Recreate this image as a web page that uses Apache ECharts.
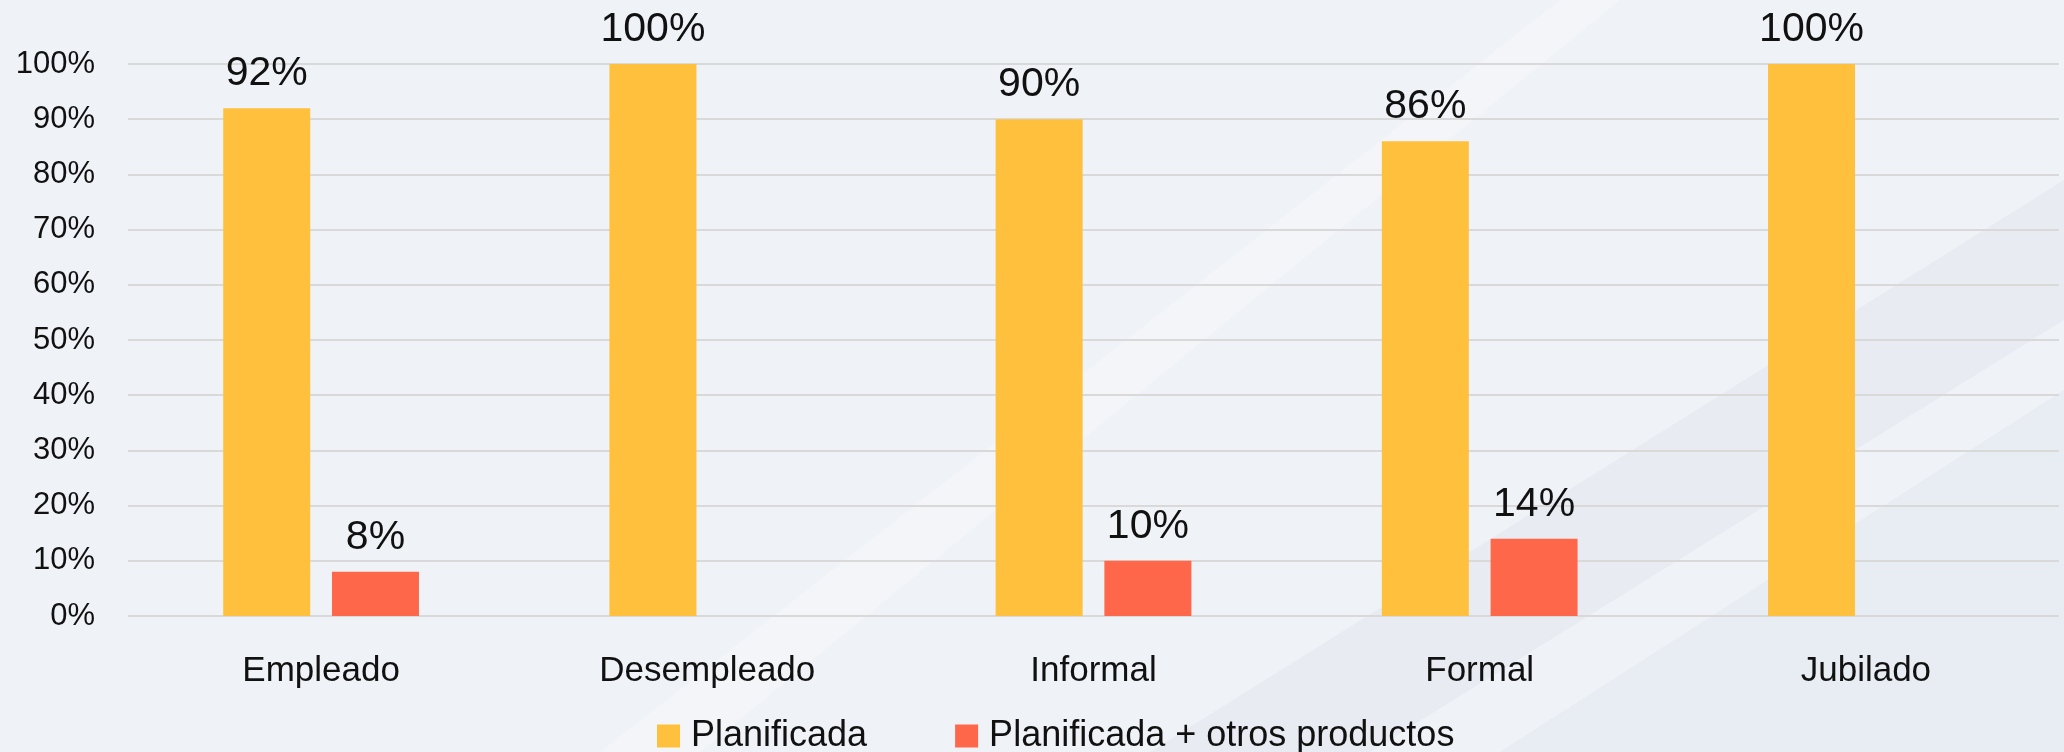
<!DOCTYPE html>
<html>
<head>
<meta charset="utf-8">
<style>html,body{margin:0;padding:0;background:#eff2f6;}#c{width:2064px;height:752px;}</style>
<script src="https://cdn.jsdelivr.net/npm/echarts@6/dist/echarts.min.js"></script>
</head>
<body>
<div id="c"></div>
<script>
const categories = ['Empleado', 'Desempleado', 'Informal', 'Formal', 'Jubilado'];
const planificada = [92, 100, 90, 86, 100];
const planificadaOtros = [8, null, 10, 14, null];
const seriesNames = ['Planificada', 'Planificada + otros productos'];
const yTicks = { min: 0, max: 100, interval: 10 };

const FONT = "'Liberation Sans', Arial, sans-serif";
const chart = echarts.init(document.getElementById('c'), null, { renderer: 'canvas' });

const labelCfg = {
  show: true, position: 'top', distance: 14,
  color: '#111', fontSize: 41, fontFamily: FONT,
  formatter: p => p.value == null ? '' : p.value + '%'
};

chart.setOption({
  backgroundColor: '#eff2f6',
  animation: false,
  graphic: [
    { type: 'polygon', silent: true, z: -10, shape: { points: [[1150, 752], [2064, 180], [2064, 320], [1370, 752]] }, style: { fill: 'rgba(225,229,238,0.45)' } },
    { type: 'polygon', silent: true, z: -10, shape: { points: [[1500, 752], [2064, 390], [2064, 752]] }, style: { fill: 'rgba(226,230,239,0.5)' } },
    { type: 'polygon', silent: true, z: -10, shape: { points: [[600, 752], [1560, 0], [1620, 0], [700, 752]] }, style: { fill: 'rgba(255,255,255,0.25)' } }
  ],
  grid: { left: 128, right: 5, top: 64, bottom: 136, containLabel: false },
  legend: {
    left: 652, top: 713,
    itemWidth: 23, itemHeight: 23, itemGap: 88,
    icon: 'rect',
    textStyle: { fontSize: 36, color: '#111', fontFamily: FONT, padding: [0, 0, 0, 6] },
    data: seriesNames
  },
  xAxis: {
    type: 'category', data: categories,
    axisLine: { show: false }, axisTick: { show: false },
    axisLabel: { color: '#111', fontSize: 35, fontFamily: FONT, margin: 38 }
  },
  yAxis: {
    type: 'value', min: yTicks.min, max: yTicks.max, interval: yTicks.interval,
    axisLine: { show: false }, axisTick: { show: false },
    splitLine: { lineStyle: { color: '#d9d9d9', width: 2 } },
    axisLabel: { color: '#111', fontSize: 31, fontFamily: FONT, margin: 33, formatter: v => v + '%' }
  },
  series: [
    { name: seriesNames[0], type: 'bar', data: planificada, barWidth: 87, barGap: '25%',
      itemStyle: { color: '#ffc03d' }, label: labelCfg },
    { name: seriesNames[1], type: 'bar', data: planificadaOtros, barWidth: 87, barGap: '25%',
      itemStyle: { color: '#ff674a' }, label: labelCfg }
  ]
});
</script>
</body>
</html>
